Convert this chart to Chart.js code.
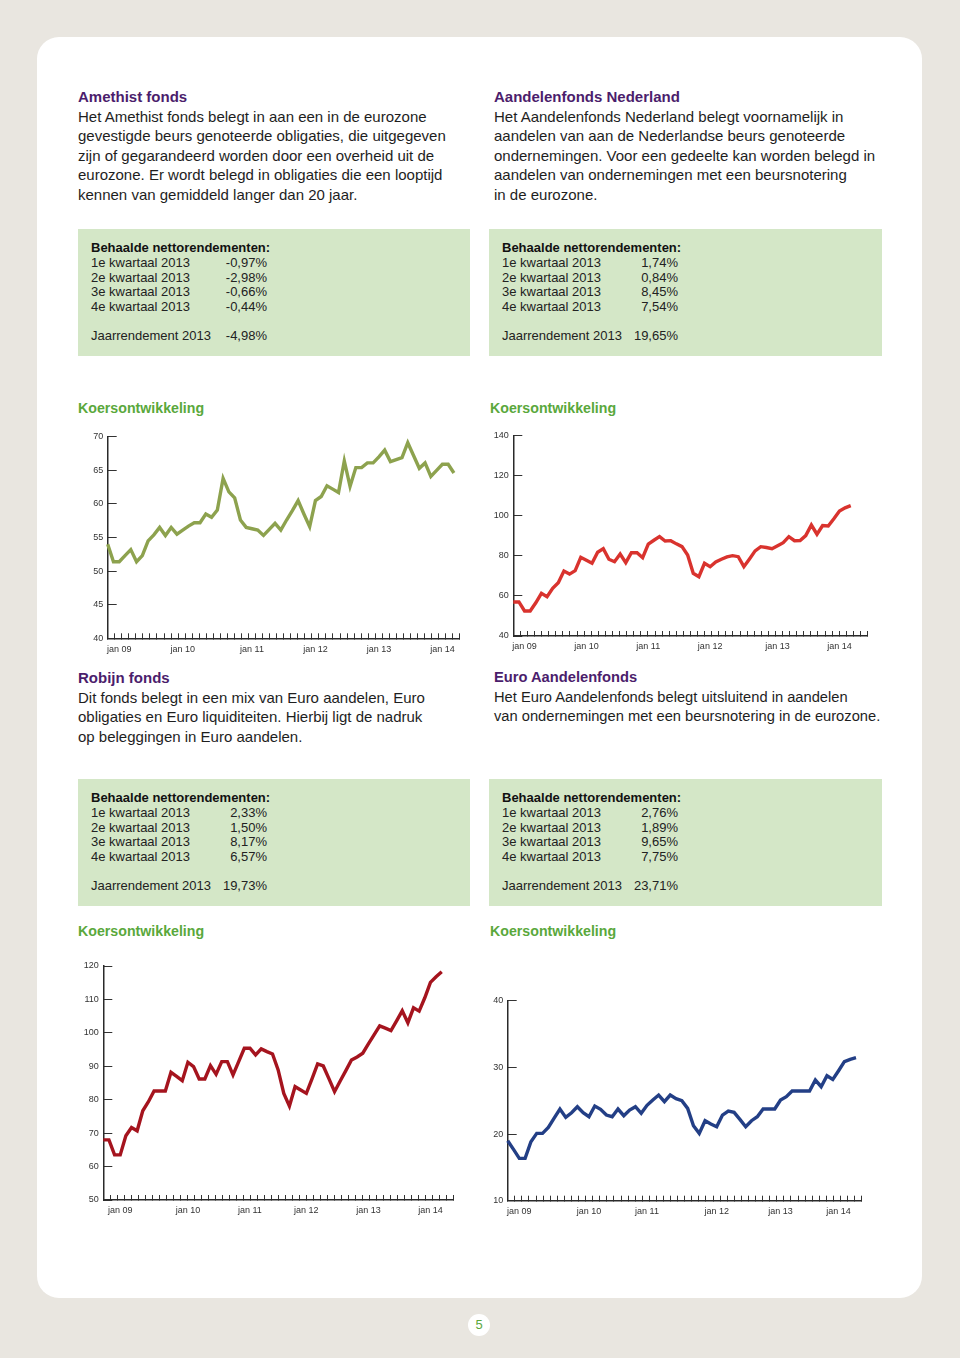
<!DOCTYPE html>
<html><head><meta charset="utf-8">
<script src="https://cdn.jsdelivr.net/npm/chart.js@4/dist/chart.umd.min.js"></script>
<style>
html,body{margin:0;padding:0;}
body{width:960px;height:1358px;background:#e9e6e0;position:relative;overflow:hidden;font-family:"Liberation Sans",Arial,sans-serif;}
.card{position:absolute;left:37px;top:37px;width:885px;height:1261px;background:#fff;border-radius:22px;}
.txt{position:absolute;font-size:15px;line-height:19.5px;color:#1e1e1e;white-space:nowrap;}
.txt b{color:#4b1d6c;}
.box{position:absolute;background:#d4e7c7;width:392px;height:127px;}
.box div{position:absolute;font-size:13px;line-height:14.5px;color:#222;white-space:nowrap;}
.box .l{left:13px;}
.box .h{left:13px;font-weight:bold;color:#111;}
.box .v{left:120px;width:69px;text-align:right;}
.kt{position:absolute;font-size:14.2px;line-height:18px;font-weight:bold;color:#5aa83c;white-space:nowrap;}
canvas{position:absolute;}
.pn{position:absolute;left:468px;top:1314px;width:22px;height:22px;border-radius:11px;background:#fff;color:#5aa83c;font-size:13px;line-height:22px;text-align:center;}
</style>
</head><body>
<div class="card"></div>

<div class="txt" style="left:78px;top:87px;"><b>Amethist fonds</b><br>Het Amethist fonds belegt in aan een in de eurozone<br>gevestigde beurs genoteerde obligaties, die uitgegeven<br>zijn of gegarandeerd worden door een overheid uit de<br>eurozone. Er wordt belegd in obligaties die een looptijd<br>kennen van gemiddeld langer dan 20 jaar.</div>
<div class="txt" style="left:494px;top:87px;"><b>Aandelenfonds Nederland</b><br>Het Aandelenfonds Nederland belegt voornamelijk in<br>aandelen van aan de Nederlandse beurs genoteerde<br>ondernemingen. Voor een gedeelte kan worden belegd in<br>aandelen van ondernemingen met een beursnotering<br>in de eurozone.</div>

<div class="box" style="left:78px;top:229px;">
<div class="h" style="top:12px">Behaalde nettorendementen:</div>
<div class="l" style="top:27px">1e kwartaal 2013</div><div class="v" style="top:27px">-0,97%</div>
<div class="l" style="top:41.5px">2e kwartaal 2013</div><div class="v" style="top:41.5px">-2,98%</div>
<div class="l" style="top:56px">3e kwartaal 2013</div><div class="v" style="top:56px">-0,66%</div>
<div class="l" style="top:70.5px">4e kwartaal 2013</div><div class="v" style="top:70.5px">-0,44%</div>
<div class="l" style="top:99.5px">Jaarrendement 2013</div><div class="v" style="top:99.5px">-4,98%</div>
</div>
<div class="box" style="left:489px;top:229px;width:393px;">
<div class="h" style="top:12px">Behaalde nettorendementen:</div>
<div class="l" style="top:27px">1e kwartaal 2013</div><div class="v" style="top:27px">1,74%</div>
<div class="l" style="top:41.5px">2e kwartaal 2013</div><div class="v" style="top:41.5px">0,84%</div>
<div class="l" style="top:56px">3e kwartaal 2013</div><div class="v" style="top:56px">8,45%</div>
<div class="l" style="top:70.5px">4e kwartaal 2013</div><div class="v" style="top:70.5px">7,54%</div>
<div class="l" style="top:99.5px">Jaarrendement 2013</div><div class="v" style="top:99.5px">19,65%</div>
</div>

<div class="kt" style="left:78px;top:399px;">Koersontwikkeling</div>
<div class="kt" style="left:490px;top:399px;">Koersontwikkeling</div>

<div class="txt" style="left:78px;top:668px;"><b>Robijn fonds</b><br>Dit fonds belegt in een mix van Euro aandelen, Euro<br>obligaties en Euro liquiditeiten. Hierbij ligt de nadruk<br>op beleggingen in Euro aandelen.</div>
<div class="txt" style="left:494px;top:668px;font-size:14.7px;"><b>Euro Aandelenfonds</b><br>Het Euro Aandelenfonds belegt uitsluitend in aandelen<br>van ondernemingen met een beursnotering in de eurozone.</div>

<div class="box" style="left:78px;top:779px;">
<div class="h" style="top:12px">Behaalde nettorendementen:</div>
<div class="l" style="top:27px">1e kwartaal 2013</div><div class="v" style="top:27px">2,33%</div>
<div class="l" style="top:41.5px">2e kwartaal 2013</div><div class="v" style="top:41.5px">1,50%</div>
<div class="l" style="top:56px">3e kwartaal 2013</div><div class="v" style="top:56px">8,17%</div>
<div class="l" style="top:70.5px">4e kwartaal 2013</div><div class="v" style="top:70.5px">6,57%</div>
<div class="l" style="top:99.5px">Jaarrendement 2013</div><div class="v" style="top:99.5px">19,73%</div>
</div>
<div class="box" style="left:489px;top:779px;width:393px;">
<div class="h" style="top:12px">Behaalde nettorendementen:</div>
<div class="l" style="top:27px">1e kwartaal 2013</div><div class="v" style="top:27px">2,76%</div>
<div class="l" style="top:41.5px">2e kwartaal 2013</div><div class="v" style="top:41.5px">1,89%</div>
<div class="l" style="top:56px">3e kwartaal 2013</div><div class="v" style="top:56px">9,65%</div>
<div class="l" style="top:70.5px">4e kwartaal 2013</div><div class="v" style="top:70.5px">7,75%</div>
<div class="l" style="top:99.5px">Jaarrendement 2013</div><div class="v" style="top:99.5px">23,71%</div>
</div>

<div class="kt" style="left:78px;top:922px;">Koersontwikkeling</div>
<div class="kt" style="left:490px;top:922px;">Koersontwikkeling</div>

<canvas id="c1"></canvas>
<canvas id="c2"></canvas>
<canvas id="c3"></canvas>
<canvas id="c4"></canvas>

<div class="pn">5</div>

<script>
// ---- data ----
const yearLabels = ['jan 09', 'jan 10', 'jan 11', 'jan 12', 'jan 13', 'jan 14'];

const amethistValues = [54.0, 51.4, 51.4, 52.3, 53.2, 51.4, 52.3, 54.5, 55.4, 56.5, 55.3, 56.5, 55.5, 56.1, 56.7, 57.2, 57.2, 58.5, 58.0, 59.1, 63.8, 61.8, 60.9, 57.6, 56.5, 56.3, 56.1, 55.3, 56.2, 57.1, 56.1, 57.6, 59.0, 60.5, 58.5, 56.6, 60.5, 61.1, 62.7, 62.2, 61.7, 66.4, 62.6, 65.4, 65.4, 66.1, 66.1, 67.0, 68.0, 66.3, 66.6, 66.9, 69.1, 67.2, 65.3, 66.1, 64.1, 65.0, 65.9, 65.9, 64.6];
const amethistJanIndex = [2, 13, 25, 36, 47, 58];
const amethistCategoryCount = 62;
const amethistYTicks = [40, 70, 5];

const aandelenNLValues = [57.0, 57.0, 52.5, 52.5, 56.6, 61.3, 59.6, 63.8, 66.6, 72.4, 70.9, 72.6, 79.3, 77.8, 76.3, 81.8, 83.6, 78.3, 77.1, 80.9, 76.6, 81.6, 81.6, 79.1, 85.9, 87.8, 89.6, 87.4, 87.6, 86.0, 84.6, 80.4, 71.3, 69.6, 76.3, 74.6, 77.0, 78.3, 79.5, 80.1, 79.6, 74.6, 78.5, 82.5, 84.6, 84.2, 83.6, 85.1, 86.6, 89.6, 87.6, 87.7, 90.1, 95.4, 90.8, 95.1, 94.9, 98.5, 102.4, 104.0, 105.1];
const aandelenNLJanIndex = [2, 13, 24, 35, 47, 58];
const aandelenNLCategoryCount = 64;
const aandelenNLYTicks = [40, 140, 20];

const robijnValues = [68.0, 68.0, 63.5, 63.5, 69.2, 71.7, 70.7, 76.7, 79.4, 82.6, 82.6, 82.6, 88.2, 87.0, 85.7, 91.2, 89.9, 86.2, 86.2, 90.2, 87.6, 91.4, 91.4, 87.4, 91.4, 95.4, 95.4, 93.4, 95.2, 94.4, 93.7, 88.9, 81.9, 78.1, 83.9, 82.9, 81.9, 86.2, 90.7, 90.1, 86.3, 82.4, 85.6, 88.7, 91.9, 92.8, 93.9, 96.7, 99.4, 102.1, 101.4, 100.7, 103.6, 106.6, 103.0, 107.5, 106.5, 110.5, 115.1, 116.8, 118.3];
const robijnJanIndex = [3, 15, 26, 36, 47, 58];
const robijnCategoryCount = 63;
const robijnYTicks = [50, 120, 10];

const euroAandelenValues = [19.0, 17.7, 16.35, 16.35, 18.85, 20.1, 20.1, 21.0, 22.4, 23.75, 22.5, 23.2, 24.1, 23.2, 22.6, 24.2, 23.7, 22.85, 22.6, 23.75, 22.75, 23.6, 24.1, 23.1, 24.3, 25.1, 25.85, 24.85, 25.85, 25.3, 25.0, 23.85, 21.25, 20.1, 22.0, 21.5, 21.1, 22.85, 23.45, 23.25, 22.2, 21.1, 22.0, 22.6, 23.75, 23.75, 23.75, 25.1, 25.6, 26.45, 26.45, 26.45, 26.45, 28.1, 27.1, 28.75, 28.2, 29.5, 30.85, 31.2, 31.45];
const euroAandelenJanIndex = [2, 14, 24, 36, 47, 57];
const euroAandelenCategoryCount = 62;
const euroAandelenYTicks = [10, 40, 10];

// ---- build ----
function buildLabels(count, janIndex) {
  const labels = new Array(count).fill('');
  janIndex.forEach((idx, k) => { labels[idx] = yearLabels[k]; });
  return labels;
}

const FONT = '"Liberation Sans", Arial, sans-serif';
const MARK_INTERVALS = 50;

function makeChart(id, plot, labels, values, yTicks, color) {
  const cv = document.getElementById(id);
  const cl = Math.floor(plot.l - 45), ct = Math.floor(plot.t - 26);
  const cw = Math.ceil(plot.r + 16) - cl, ch = Math.ceil(plot.b + 28) - ct;
  const yW = plot.l - cl, padTop = plot.t - ct, padRight = cl + cw - plot.r, xH = ct + ch - plot.b;
  cv.style.left = cl + 'px'; cv.style.top = ct + 'px';
  cv.width = cw; cv.height = ch;
  const span = labels.length - 1;
  new Chart(cv, {
    type: 'line',
    data: { labels: labels, datasets: [{ data: values, xAxisID: 'x', borderColor: color, borderWidth: 3.4, pointRadius: 0, tension: 0, fill: false, borderJoinStyle: 'miter', borderCapStyle: 'butt' }] },
    options: {
      responsive: false, animation: false, devicePixelRatio: 1,
      layout: { padding: { left: 0, top: padTop, right: padRight, bottom: 0 } },
      plugins: { legend: { display: false }, tooltip: { enabled: false } },
      scales: {
        xm: {
          type: 'linear', axis: 'x', position: 'bottom', weight: 0,
          min: 0, max: span,
          grid: { drawOnChartArea: false, drawTicks: true, tickLength: -5, tickColor: '#333', tickWidth: 1 },
          border: { display: true, color: '#2a2a2a', width: 1.5 },
          ticks: { display: false, stepSize: span / MARK_INTERVALS, maxTicksLimit: 1000, autoSkip: false },
          afterFit: (s) => { s.height = 0; }
        },
        x: {
          type: 'category', offset: false, position: 'bottom', weight: 1,
          grid: { display: false, drawTicks: false },
          border: { display: false },
          ticks: { autoSkip: false, maxRotation: 0, minRotation: 0, padding: 5.6, color: '#333', font: { size: 9, family: FONT } },
          afterFit: (s) => { s.height = xH; }
        },
        y: {
          min: yTicks[0], max: yTicks[1],
          grid: { drawOnChartArea: false, drawTicks: true, tickLength: -9, tickColor: '#333', tickWidth: 1 },
          border: { display: true, color: '#2a2a2a', width: 1.5 },
          ticks: { stepSize: yTicks[2], padding: 13.5, color: '#333', font: { size: 9, family: FONT } },
          afterFit: (s) => { s.width = yW; }
        }
      }
    }
  });
}

makeChart('c1', { l: 107.7, t: 436.7, r: 459.7, b: 638.3 }, buildLabels(amethistCategoryCount, amethistJanIndex), amethistValues, amethistYTicks, '#8da24e');
makeChart('c2', { l: 513.3, t: 435.7, r: 867.6, b: 636 }, buildLabels(aandelenNLCategoryCount, aandelenNLJanIndex), aandelenNLValues, aandelenNLYTicks, '#d9332e');
makeChart('c3', { l: 103.3, t: 966, r: 453, b: 1200 }, buildLabels(robijnCategoryCount, robijnJanIndex), robijnValues, robijnYTicks, '#a5141e');
makeChart('c4', { l: 507.7, t: 1000.7, r: 861.8, b: 1200.7 }, buildLabels(euroAandelenCategoryCount, euroAandelenJanIndex), euroAandelenValues, euroAandelenYTicks, '#233f86');
</script>
</body></html>
